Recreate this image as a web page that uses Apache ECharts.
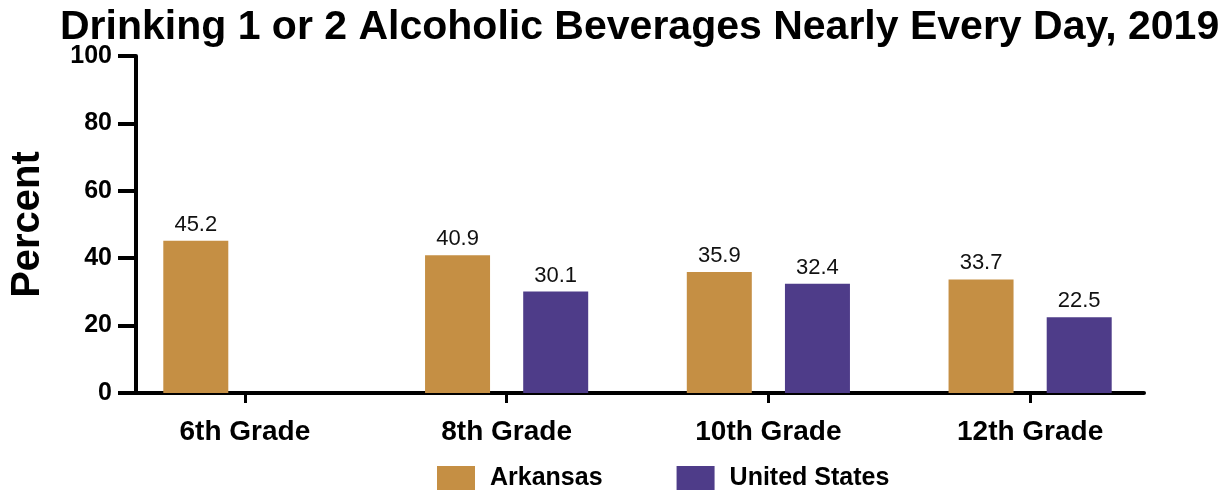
<!DOCTYPE html>
<html>
<head>
<meta charset="utf-8">
<script src="https://cdn.jsdelivr.net/npm/echarts@6/dist/echarts.min.js"></script>
<style>html,body{margin:0;padding:0;background:#fff;}#c{width:1228px;height:490px;}</style>
</head>
<body>
<div id="c"></div>
<script>
const categories = ['6th Grade', '8th Grade', '10th Grade', '12th Grade'];
const arkansas = [45.2, 40.9, 35.9, 33.7];
const unitedStates = [null, 30.1, 32.4, 22.5];
const yTicks = [0, 20, 40, 60, 80, 100];

const FONT = '"Liberation Sans", Arial, Helvetica, sans-serif';
const chart = echarts.init(document.getElementById('c'), null, {renderer: 'canvas'});
const label = {show: true, position: 'top', distance: 5, color: '#111', fontSize: 22, fontFamily: FONT};
chart.setOption({
  animation: false,
  backgroundColor: '#fff',
  textStyle: {fontFamily: FONT},
  title: {
    text: 'Drinking 1 or 2 Alcoholic Beverages Nearly Every Day, 2019',
    left: 55, top: 2,
    textStyle: {fontSize: 41, fontWeight: 'bold', color: '#000', fontFamily: FONT}
  },
  legend: {
    left: 432, top: 461,
    icon: 'rect',
    itemWidth: 38, itemHeight: 25, itemGap: 74,
    textStyle: {fontSize: 25, fontWeight: 'bold', color: '#000', fontFamily: FONT, padding: [0, 0, 0, 10]},
    data: ['Arkansas', 'United States']
  },
  grid: [
    {left: 114, right: 67, top: 56, bottom: 97},
    {left: 131, right: 84, top: 56, bottom: 97}
  ],
  xAxis: [
    {
      type: 'category', gridIndex: 0, data: categories,
      axisLine: {show: false},
      axisTick: {show: true, alignWithLabel: true, length: 10, lineStyle: {color: '#000', width: 3}},
      axisLabel: {fontSize: 28, fontWeight: 'bold', color: '#000', margin: 25, fontFamily: FONT}
    },
    {
      type: 'value', gridIndex: 1, min: 0, max: 1,
      axisLine: {show: true, lineStyle: {color: '#000', width: 4}},
      axisTick: {show: false}, axisLabel: {show: false}, splitLine: {show: false}
    }
  ],
  yAxis: [
    {
      type: 'value', gridIndex: 0, min: 0, max: 100, interval: 20,
      show: false
    },
    {
      type: 'value', gridIndex: 1, min: yTicks[0], max: yTicks[yTicks.length - 1], interval: 20,
      name: 'Percent', nameLocation: 'middle', nameRotate: 90, nameGap: 88,
      nameTextStyle: {fontSize: 40, fontWeight: 'bold', color: '#000', fontFamily: FONT},
      axisLine: {show: true, lineStyle: {color: '#000', width: 4}},
      axisTick: {show: true, length: 18, lineStyle: {color: '#000', width: 4}},
      axisLabel: {fontSize: 25, fontWeight: 'bold', color: '#000', margin: 24, fontFamily: FONT},
      splitLine: {show: false}
    }
  ],
  series: [
    {
      name: 'Arkansas', type: 'bar', xAxisIndex: 0, yAxisIndex: 0,
      data: arkansas, barWidth: 65, barGap: '51%',
      itemStyle: {color: '#C58F44'}, label: label
    },
    {
      name: 'United States', type: 'bar', xAxisIndex: 0, yAxisIndex: 0,
      data: unitedStates, barWidth: 65,
      itemStyle: {color: '#4E3C89'}, label: label
    }
  ]
});
</script>
</body>
</html>
